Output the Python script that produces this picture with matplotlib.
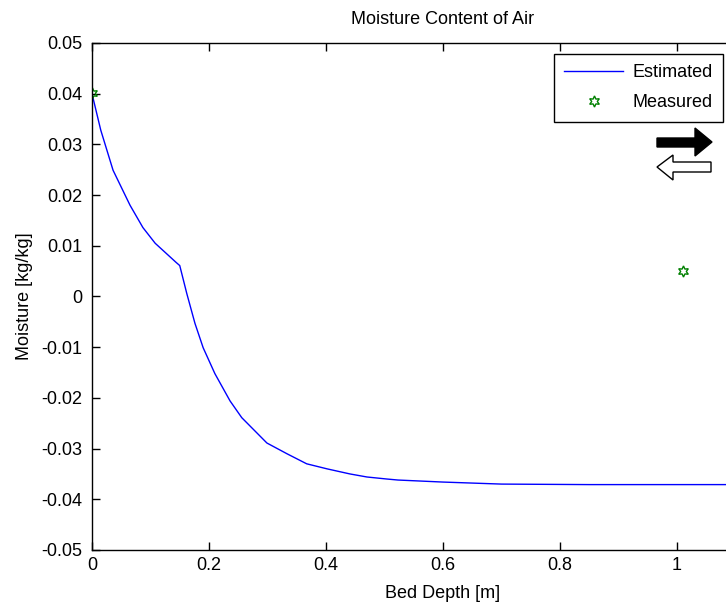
"""Moisture content of air along the bed depth, MATLAB-style figure."""

import matplotlib
matplotlib.use("Agg")
import matplotlib.pyplot as plt
from matplotlib.patches import Polygon

# estimated profile
depth_est = [0.0, 0.015, 0.036, 0.065, 0.087, 0.108, 0.144, 0.150, 0.162, 0.176,
             0.190, 0.210, 0.236, 0.256, 0.299, 0.333, 0.367, 0.402, 0.441, 0.470,
             0.504, 0.523, 0.60, 0.70, 0.85, 1.0, 1.2]
moist_est = [0.0400, 0.0328, 0.0249, 0.0180, 0.0136, 0.0105, 0.0067, 0.0061, 0.0006, -0.0053,
             -0.0101, -0.0152, -0.0206, -0.0239, -0.0289, -0.0310, -0.0330, -0.0340, -0.0350, -0.0356,
             -0.0360, -0.0362, -0.0366, -0.0370, -0.0371, -0.0371, -0.0371]

# measured points
depth_meas = [0.0, 1.01]
moist_meas = [0.0401, 0.0050]

x_ticks = [0, 0.2, 0.4, 0.6, 0.8, 1]
x_tick_labels = ["0", "0.2", "0.4", "0.6", "0.8", "1"]
y_ticks = [-0.05, -0.04, -0.03, -0.02, -0.01, 0, 0.01, 0.02, 0.03, 0.04, 0.05]
y_tick_labels = ["-0.05", "-0.04", "-0.03", "-0.02", "-0.01", "0",
                 "0.01", "0.02", "0.03", "0.04", "0.05"]

W, H = 726, 608
plt.rcParams["font.family"] = ["Liberation Sans", "DejaVu Sans"]
plt.rcParams["font.size"] = 13

fig = plt.figure(figsize=(W / 100, H / 100), dpi=100)
# axes run past the right edge of the picture, as in the cropped original
ax = fig.add_axes([92 / W, 1 - 550 / H, 702 / W, 507 / H])

ax.plot(depth_est, moist_est, color="#0000ff", linewidth=1.0, label="Estimated")
ax.plot(depth_meas, moist_meas, linestyle="none", marker=(6, 1, 0), markersize=8,
        markerfacecolor="none", markeredgecolor="#008000", markeredgewidth=1.0,
        label="Measured")

ax.set_xlim(0, 1.2)
ax.set_ylim(-0.05, 0.05)
ax.set_xticks(x_ticks, x_tick_labels)
ax.set_yticks(y_ticks, y_tick_labels)
ax.tick_params(direction="in", length=6, width=1, top=True, right=True)
ax.tick_params(axis="x", pad=5)
ax.tick_params(axis="y", pad=7)
for sp in ax.spines.values():
    sp.set_linewidth(1.0)

ax.set_title("Moisture Content of Air", fontsize=13, pad=14)
ax.set_xlabel("Bed Depth [m]", labelpad=8)
ax.set_ylabel("Moisture [kg/kg]", labelpad=6)

leg = ax.legend(loc="upper left", bbox_to_anchor=(554 / W, 1 - 54 / H),
                bbox_transform=fig.transFigure, borderaxespad=0, fancybox=False,
                edgecolor="black", framealpha=1, handlelength=3.25, handletextpad=0.5,
                borderpad=0.58, labelspacing=0.7)
leg.get_frame().set_linewidth(1.0)

# the two direction arrows under the legend (pixel coords, y from top)
right_arrow = [(657, 138), (695, 138), (695, 128), (712, 142), (695, 156), (695, 147), (657, 147)]
left_arrow = [(711, 162), (673, 162), (673, 155), (657, 167), (673, 180), (673, 172), (711, 172)]
for pts, face in [(right_arrow, "black"), (left_arrow, "white")]:
    fig.patches.append(Polygon([(x / W, 1 - y / H) for x, y in pts], closed=True,
                               transform=fig.transFigure, facecolor=face,
                               edgecolor="black", linewidth=1.0))

fig.savefig("out.png", dpi=100)
